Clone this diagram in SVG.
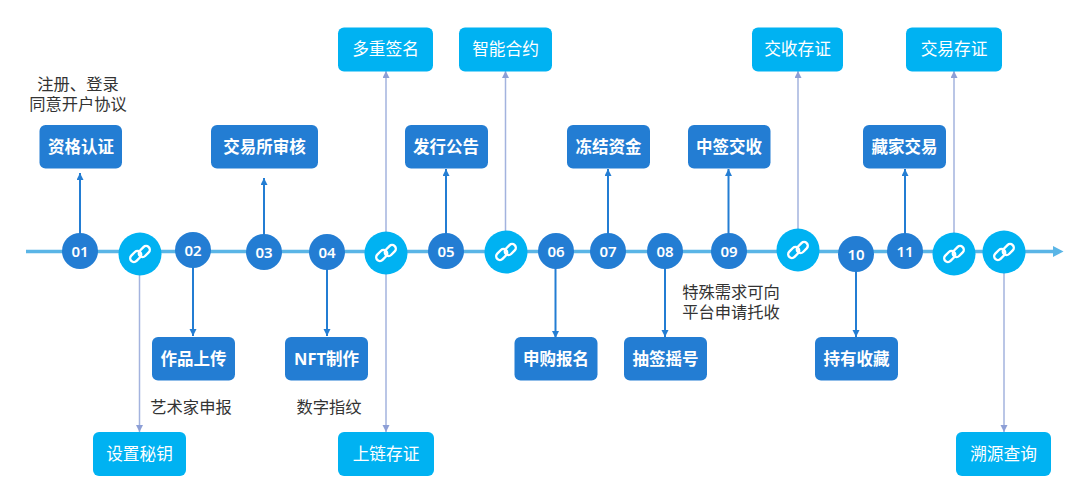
<svg xmlns="http://www.w3.org/2000/svg" width="1080" height="493" viewBox="0 0 1080 493">
<style>
text{font-family:"Noto Sans","Noto Sans CJK SC",sans-serif;text-anchor:middle}
.d rect{fill:#237dd3}
.c rect{fill:#00b2f2}
.d text{fill:#fff;font-size:16.500px;font-weight:700}
.c text{fill:#fff;font-size:16.700px}
.n circle{fill:#237dd3}
.n text{fill:#fff;font-size:15px;font-weight:600}
.l circle{fill:#00b2f2}
.note{fill:#333;font-size:16.300px}
.a{stroke:#237dd3;stroke-width:2;fill:none;marker-end:url(#ma)}
.b{stroke:#a3b3de;stroke-width:1.500;fill:none;marker-end:url(#mb)}
.ln rect{fill:none;stroke:#fff;stroke-width:2.400}
</style>
<defs>
<marker id="ma" markerUnits="userSpaceOnUse" markerWidth="8" markerHeight="8" refX="7" refY="3.500" orient="auto"><path d="M0 0L7 3.500L0 7Z" fill="#237dd3"/></marker>
<marker id="mb" markerUnits="userSpaceOnUse" markerWidth="8" markerHeight="8" refX="7" refY="3.500" orient="auto"><path d="M0 0L7 3.500L0 7Z" fill="#8d9fd6"/></marker>
<marker id="mz" markerUnits="userSpaceOnUse" markerWidth="12" markerHeight="12" refX="1" refY="5.500" orient="auto"><path d="M0 0L10.500 5.500L0 11Z" fill="#5ab5e6"/></marker>
<g id="link" class="ln"><g transform="rotate(-45)"><rect x="-11" y="-5" width="12.500" height="7.400" rx="3.700"/><rect x="-1.500" y="-2.400" width="12.500" height="7.400" rx="3.700"/></g></g>
</defs>
<g id="connectors">
<line x1="26" y1="251.500" x2="1054" y2="251.500" stroke="#5ab5e6" stroke-width="3.500" marker-end="url(#mz)"/>
<line class="a" x1="80" y1="235" x2="80" y2="173"/>
<line class="a" x1="193" y1="266" x2="193" y2="336"/>
<line class="a" x1="264" y1="236" x2="264" y2="178"/>
<line class="a" x1="327" y1="268" x2="327" y2="336"/>
<line class="a" x1="446" y1="235" x2="446" y2="169"/>
<line class="a" x1="555.500" y1="267" x2="555.500" y2="338"/>
<line class="a" x1="608" y1="235" x2="608" y2="169"/>
<line class="a" x1="665" y1="267" x2="665" y2="337"/>
<line class="a" x1="728.500" y1="235" x2="728.500" y2="169"/>
<line class="a" x1="856" y1="270" x2="856" y2="337"/>
<line class="a" x1="905" y1="235" x2="905" y2="169"/>
<line class="b" x1="139.500" y1="272" x2="139.500" y2="432"/>
<line class="b" x1="386" y1="235" x2="386" y2="71"/>
<line class="b" x1="386" y1="272" x2="386" y2="432"/>
<line class="b" x1="505.500" y1="235" x2="505.500" y2="71"/>
<line class="b" x1="798" y1="232" x2="798" y2="71"/>
<line class="b" x1="954" y1="236" x2="954" y2="71"/>
<line class="b" x1="1004" y1="270" x2="1004" y2="432"/>
</g>
<g id="n01" class="n"><circle cx="80" cy="251" r="18"/><text x="80" y="256.500">01</text></g>
<g id="n02" class="n"><circle cx="193" cy="250" r="18"/><text x="193" y="255.500">02</text></g>
<g id="n03" class="n"><circle cx="264" cy="252" r="18"/><text x="264" y="257.500">03</text></g>
<g id="n04" class="n"><circle cx="327" cy="252" r="18"/><text x="327" y="257.500">04</text></g>
<g id="n05" class="n"><circle cx="446" cy="251" r="18"/><text x="446" y="256.500">05</text></g>
<g id="n06" class="n"><circle cx="556" cy="251" r="18"/><text x="556" y="256.500">06</text></g>
<g id="n07" class="n"><circle cx="608" cy="251" r="18"/><text x="608" y="256.500">07</text></g>
<g id="n08" class="n"><circle cx="665" cy="251" r="18"/><text x="665" y="256.500">08</text></g>
<g id="n09" class="n"><circle cx="729" cy="251" r="18"/><text x="729" y="256.500">09</text></g>
<g id="n10" class="n"><circle cx="856" cy="254" r="18"/><text x="856" y="259.500">10</text></g>
<g id="n11" class="n"><circle cx="905" cy="251" r="18"/><text x="905" y="256.500">11</text></g>
<g id="link1" class="l"><circle cx="140" cy="254" r="21.500"/><use href="#link" x="140" y="254"/></g>
<g id="link2" class="l"><circle cx="386" cy="253" r="21.500"/><use href="#link" x="386" y="253"/></g>
<g id="link3" class="l"><circle cx="506" cy="252" r="21.500"/><use href="#link" x="506" y="252"/></g>
<g id="link4" class="l"><circle cx="798" cy="250" r="21.500"/><use href="#link" x="798" y="250"/></g>
<g id="link5" class="l"><circle cx="954" cy="254" r="21.500"/><use href="#link" x="954" y="254"/></g>
<g id="link6" class="l"><circle cx="1004" cy="252" r="21.500"/><use href="#link" x="1004" y="252"/></g>
<g id="b1" class="d"><rect x="39.500" y="125" width="82.500" height="43.500" rx="6"/><text x="81" y="153">资格认证</text></g>
<g id="b2" class="d"><rect x="211" y="125" width="107" height="43.500" rx="6"/><text x="264.500" y="153">交易所审核</text></g>
<g id="b3" class="d"><rect x="405" y="125" width="83" height="43.500" rx="6"/><text x="446" y="153">发行公告</text></g>
<g id="b4" class="d"><rect x="567" y="125" width="83" height="43.500" rx="6"/><text x="608.500" y="153">冻结资金</text></g>
<g id="b5" class="d"><rect x="688" y="125" width="82.500" height="43.500" rx="6"/><text x="729" y="153">中签交收</text></g>
<g id="b6" class="d"><rect x="863" y="125" width="83" height="43.500" rx="6"/><text x="904.500" y="153">藏家交易</text></g>
<g id="b7" class="d"><rect x="152" y="337" width="83" height="43.500" rx="6"/><text x="193.500" y="365">作品上传</text></g>
<g id="b8" class="d"><rect x="285" y="337" width="83" height="43.500" rx="6"/><text x="326.500" y="365">NFT制作</text></g>
<g id="b9" class="d"><rect x="514.500" y="337" width="83" height="43.500" rx="6"/><text x="556" y="365">申购报名</text></g>
<g id="b10" class="d"><rect x="624" y="337" width="83" height="43.500" rx="6"/><text x="665.500" y="365">抽签摇号</text></g>
<g id="b11" class="d"><rect x="815" y="337" width="83" height="43.500" rx="6"/><text x="856.500" y="365">持有收藏</text></g>
<g id="c1" class="c"><rect x="338" y="27.500" width="95" height="44" rx="6"/><text x="385.500" y="55">多重签名</text></g>
<g id="c2" class="c"><rect x="459" y="27.500" width="93" height="44" rx="6"/><text x="505.500" y="55">智能合约</text></g>
<g id="c3" class="c"><rect x="752" y="27.500" width="91" height="44" rx="6"/><text x="797.500" y="55">交收存证</text></g>
<g id="c4" class="c"><rect x="906" y="27.500" width="96" height="44" rx="6"/><text x="954" y="55">交易存证</text></g>
<g id="c5" class="c"><rect x="93" y="432" width="93" height="44" rx="6"/><text x="139.500" y="460">设置秘钥</text></g>
<g id="c6" class="c"><rect x="338" y="432" width="96" height="44" rx="6"/><text x="386" y="460">上链存证</text></g>
<g id="c7" class="c"><rect x="956" y="432" width="95" height="44" rx="6"/><text x="1003.500" y="460">溯源查询</text></g>
<g id="notes">
<text class="note" x="78" y="90">注册、登录</text>
<text class="note" x="78" y="110">同意开户协议</text>
<text class="note" x="191" y="413">艺术家申报</text>
<text class="note" x="329" y="413">数字指纹</text>
<text class="note" x="731" y="298">特殊需求可向</text>
<text class="note" x="731" y="318">平台申请托收</text>
</g>
</svg>
